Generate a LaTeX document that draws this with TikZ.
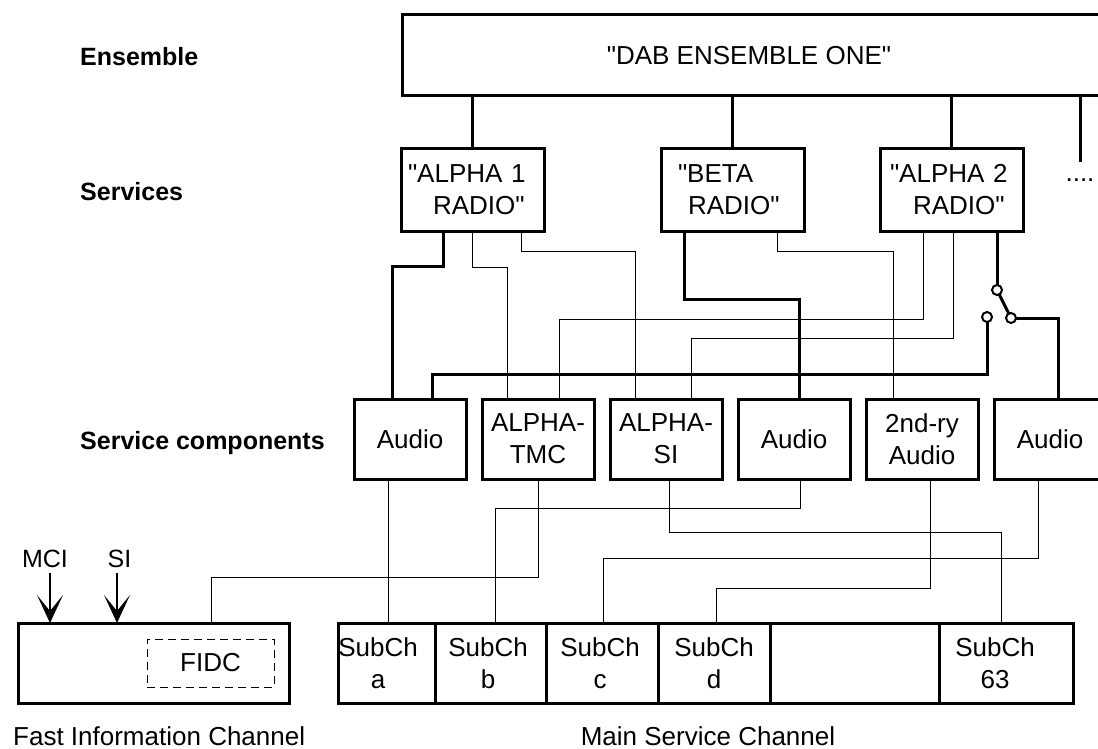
\documentclass[tikz,border=0pt]{standalone}
\usepackage{fontspec}
\setmainfont{Liberation Sans}[Ligatures=TeXOff]
\usetikzlibrary{arrows.meta,calc}
\newcommand{\fsbox}{\fontsize{26pt}{32pt}\selectfont}
\newcommand{\fslab}{\fontsize{25pt}{28pt}\selectfont\bfseries}
\newcommand{\fsbot}{\fontsize{26pt}{30pt}\selectfont}
\newcommand{\fsmid}{\fontsize{25pt}{28pt}\selectfont}
\begin{document}
\begin{tikzpicture}[x=1pt,y=-1pt,
  thickbox/.style={draw, line width=3pt, rectangle, inner sep=0pt, outer sep=0pt},
  svcbox/.style={thickbox, minimum width=143pt, minimum height=82pt, text width=143pt, align=left, font=\fsbox},
  compbox/.style={thickbox, minimum width=112pt, minimum height=80pt, align=center, font=\fsbox},
  cell/.style={thickbox, minimum height=80pt},
  celltxt/.style={font=\fsbox, align=center, inner sep=0pt},
  heavy/.style={line width=3pt},
  light/.style={line width=1pt},
  lab/.style={font=\fslab, anchor=west, inner sep=0pt},
  contact/.style={circle, draw, line width=2pt, minimum size=10pt, inner sep=0pt, outer sep=0pt, fill=white},
  arr/.style={line width=2pt, -{Stealth[length=28pt,width=26pt,inset=16pt]}}
]
\useasboundingbox (0,0) rectangle (1098,749);

% left labels
\node[lab] (lens) at (80,57) {Ensemble};
\node[lab] (lsvc) at (80,192) {Services};
\node[lab] (lcomp) at (80,443) {Service components};

% ensemble
\node[thickbox, minimum width=708pt, minimum height=81pt, anchor=north west] (ens) at (402,15) {};
\node[font=\fsbox] (enst) at (749,56) {"DAB ENSEMBLE ONE"};

% services
\node[svcbox] (a1) at (472.5,190) {\hspace*{7pt}"ALPHA 1\\\hspace*{32pt}RADIO"};
\node[svcbox] (b) at (732.5,190) {\hspace*{17pt}"BETA\\\hspace*{27pt}RADIO"};
\node[svcbox] (a2) at (951.5,190) {\hspace*{10pt}"ALPHA 2\\\hspace*{33pt}RADIO"};
\node[font=\fsbox, inner sep=0pt] (dots) at (1080,180) {....};
\coordinate (more) at (1080,162);

\draw[heavy] (ens.south -| a1.north) -- (a1.north);
\draw[heavy] (ens.south -| b.north) -- (b.north);
\draw[heavy] (ens.south -| a2.north) -- (a2.north);
\draw[heavy] (more |- ens.south) -- (more);

% service components
\node[compbox] (c1) at (410,439) {Audio};
\node[compbox] (c2) at (538,439) {ALPHA-\\TMC};
\node[compbox] (c3) at (666,439) {ALPHA-\\SI};
\node[compbox] (c4) at (794,439) {Audio};
\node[compbox] (c5) at (922,439) {2nd-ry\\Audio};
\node[compbox] (c6) at (1050,439) {Audio};

% switch contacts
\node[contact] (k1) at (997,290) {};
\node[contact] (k2) at (987,317) {};
\node[contact] (k3) at (1011,318) {};

% services -> components
\draw[heavy] ([xshift=42pt]a1.south west) -- ++(0,35) -| ([xshift=-18pt]c1.north);
\draw[light] ([xshift=-0.5pt]a1.south) -- ++(0,36) -| ([xshift=-31pt]c2.north);
\draw[light] ([xshift=-23pt]a1.south east) -- ++(0,20) -| ([xshift=-31pt]c3.north);
\draw[heavy] ([xshift=23pt]b.south west) -- ++(0,68) -| ([xshift=5pt]c4.north);
\draw[light] ([xshift=-27pt]b.south east) -- ++(0,20) -| ([xshift=-29pt]c5.north);
\draw[light] ([xshift=43pt]a2.south west) -- ++(0,88) -| ([xshift=21pt]c2.north);
\draw[light] ([xshift=1.5pt]a2.south) -- ++(0,107) -| ([xshift=25pt]c3.north);
\draw[heavy] ([xshift=-26pt]a2.south east) -- (k1.north);
\draw[heavy] (k1) -- (k3);
\draw[heavy] (k3.east) -| ([xshift=8pt]c6.north);
\draw[heavy] (k2.south) |- ([xshift=22pt,yshift=25pt]c1.north) -- ([xshift=22pt]c1.north);

% channels
\node[thickbox, minimum width=271pt, minimum height=80pt] (fic) at (153.5,663) {};
\node[draw, line width=1pt, dash pattern=on 8pt off 5pt, minimum width=127pt, minimum height=48pt, inner sep=0pt, font=\fsbox] (fidc) at (210.5,663) {FIDC};
\node[cell, minimum width=97pt] (sa) at (386.5,663) {};
\node[cell, minimum width=111pt] (sb) at (490.5,663) {};
\node[cell, minimum width=112pt] (sc) at (602,663) {};
\node[cell, minimum width=112pt] (sd) at (714,663) {};
\node[cell, minimum width=169pt] (se) at (854.5,663) {};
\node[cell, minimum width=134pt] (s63) at (1006,663) {};
\node[celltxt] (ta) at (378,663) {SubCh\\a};
\node[celltxt] (tb) at (488,663) {SubCh\\b};
\node[celltxt] (tc) at (600,663) {SubCh\\c};
\node[celltxt] (td) at (714,663) {SubCh\\d};
\node[celltxt] (t63) at (995,663) {SubCh\\63};

% components -> channels
\draw[light] ([xshift=-22pt]c1.south) -- ([xshift=-22pt]c1.south |- sa.north);
\draw[light] (c2.south) -- ++(0,98) -| ([xshift=57.5pt]fic.north);
\draw[light] ([xshift=3pt]c3.south) -- ++(0,53) -| ([xshift=-5pt]s63.north);
\draw[light] ([xshift=6pt]c4.south) -- ++(0,29) -| ([xshift=4.5pt]sb.north);
\draw[light] ([xshift=8pt]c5.south) -- ++(0,109) -| ([xshift=2pt]sd.north);
\draw[light] ([xshift=-12pt]c6.south) -- ++(0,79) -| ([xshift=1pt]sc.north);

% MCI / SI
\node[font=\fsmid] (mci) at (45,559) {MCI};
\node[font=\fsmid] (si) at (119.5,559) {SI};
\coordinate (mciA) at (50,573);
\coordinate (siA) at (117,573);
\draw[arr] (mciA) -- (mciA |- fic.north);
\draw[arr] (siA) -- (siA |- fic.north);

% bottom labels
\node[font=\fsbot, anchor=west, inner sep=0pt] (lfic) at (13,736) {Fast Information Channel};
\node[font=\fsbot, inner sep=0pt] (lmsc) at (708,736) {Main Service Channel};
\end{tikzpicture}
\end{document}
